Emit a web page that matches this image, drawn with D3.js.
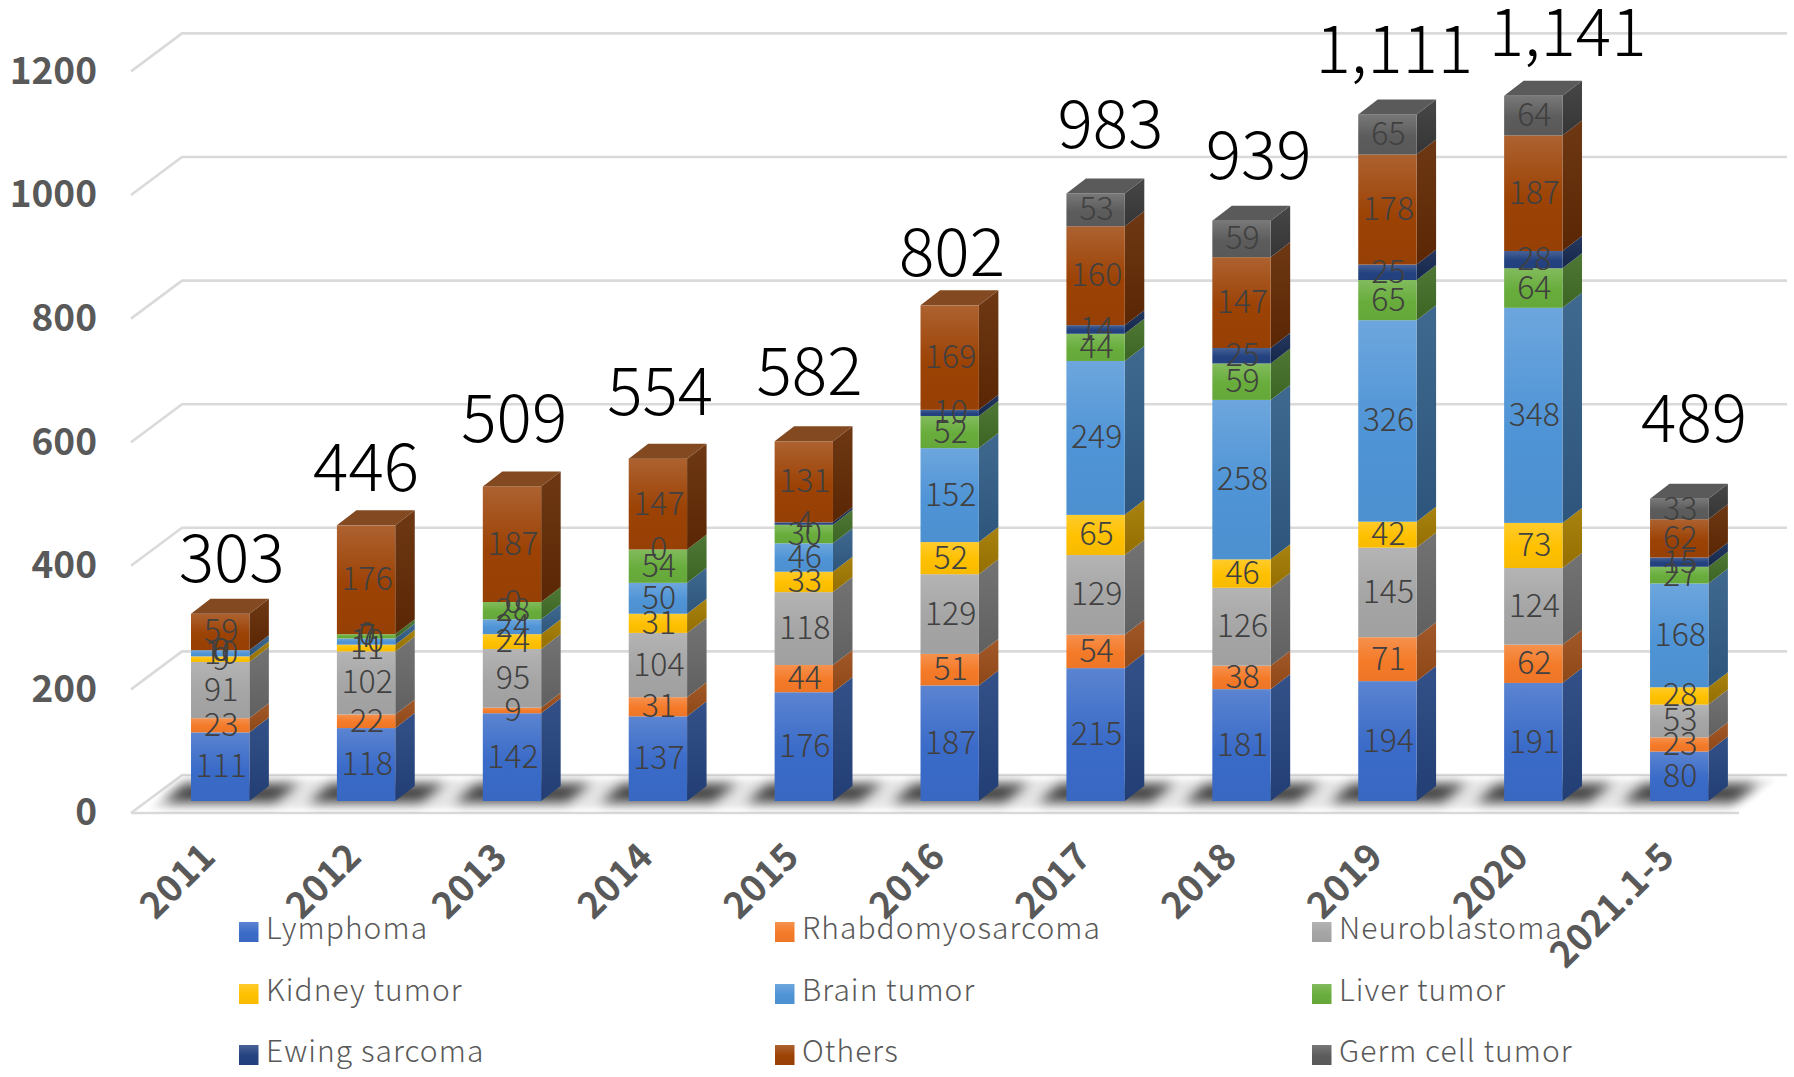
<!DOCTYPE html>
<html><head><meta charset="utf-8">
<style>
html,body{margin:0;padding:0;background:#fff}
svg{display:block}
text{font-family:"Noto Sans CJK JP","Noto Sans",sans-serif}
.domain{display:none}
</style>
<script src="https://cdn.jsdelivr.net/npm/d3@7/dist/d3.min.js"></script>
</head><body><svg id="c" width="1794" height="1077"></svg>
<script>
const categories=["2011","2012","2013","2014","2015","2016","2017","2018","2019","2020","2021.1-5"];
const lymphoma=[111,118,142,137,176,187,215,181,194,191,80];
const rhabdomyosarcoma=[23,22,9,31,44,51,54,38,71,62,23];
const neuroblastoma=[91,102,95,104,118,129,129,126,145,124,53];
const kidneyTumor=[9,11,24,31,33,52,65,46,42,73,28];
const brainTumor=[10,10,24,50,46,152,249,258,326,348,168];
const liverTumor=[0,7,28,54,30,52,44,59,65,64,27];
const ewingSarcoma=[0,0,0,0,4,10,14,25,25,28,15];
const others=[59,176,187,147,131,169,160,147,178,187,62];
const germCellTumor=[null,null,null,null,null,null,53,59,65,64,33];
const totals=["303","446","509","554","582","802","983","939","1,111","1,141","489"];
const seriesNames=["Lymphoma","Rhabdomyosarcoma","Neuroblastoma","Kidney tumor","Brain tumor","Liver tumor","Ewing sarcoma","Others","Germ cell tumor"];
const seriesValues=[lymphoma,rhabdomyosarcoma,neuroblastoma,kidneyTumor,brainTumor,liverTumor,ewingSarcoma,others,germCellTumor];
const seriesColors=["#3A6BC8","#F47A28","#A5A5A5","#FFC000","#4F94D6","#68AD3C","#234280","#9C4205","#5C5C5C"];
const yTicks=[0,200,400,600,800,1000,1200];

const svg=d3.select("#c");
const defs=svg.append("defs");
const y=d3.scaleLinear().domain([0,1200]).range([801,59.4]);
const x=d3.scaleBand().domain(categories).range([191,1708.4]).paddingInner(0.6).paddingOuter(0).align(0);
const dx=19.5,dy=15,gridFront=12,gridBack=-26,backDx=51;
const gridLeft=131,gridRight=1787,floorRight=1739;

// gradients
const shade=(c,k)=>{const r=d3.rgb(c);return d3.rgb(r.r*k,r.g*k,r.b*k).formatHex()};
seriesColors.forEach((c,i)=>{
  const f=defs.append("linearGradient").attr("id","f"+i).attr("x1",0).attr("y1",0).attr("x2",0).attr("y2",1);
  f.append("stop").attr("offset","0").attr("stop-color",d3.interpolateRgb(c,"#fff")(0.17));
  f.append("stop").attr("offset","0.55").attr("stop-color",c);
  f.append("stop").attr("offset","1").attr("stop-color",shade(c,0.97));
  const s=defs.append("linearGradient").attr("id","s"+i).attr("x1",0).attr("y1",0).attr("x2",0).attr("y2",1);
  s.append("stop").attr("offset","0").attr("stop-color",shade(d3.interpolateRgb(c,"#fff")(0.1),0.66));
  s.append("stop").attr("offset","1").attr("stop-color",shade(c,0.58));
});
const blur=(id,sd)=>defs.append("filter").attr("id",id).attr("filterUnits","userSpaceOnUse")
  .attr("x",0).attr("y",700).attr("width",1794).attr("height",200)
  .append("feGaussianBlur").attr("stdDeviation",sd);
blur("blur",6); blur("blurSoft",3);
defs.append("clipPath").attr("id","floorClip").append("polygon")
  .attr("points",[[gridLeft,813],[floorRight,813],[gridRight,775],[gridLeft+backDx,775]].join(" "));

// gridlines (walls)
const grid=svg.append("g").attr("fill","none").attr("stroke","#DADADA").attr("stroke-width",2.6);
yTicks.forEach(v=>{
  grid.append("path").attr("d",d3.line()([[gridLeft,y(v)+gridFront],[gridLeft+backDx,y(v)+gridBack],[gridRight,y(v)+gridBack]]));
});
grid.append("path").attr("d",d3.line()([[gridLeft,y(0)+gridFront],[floorRight,y(0)+gridFront]]));

// floor shadows
const shadows=svg.append("g").attr("clip-path","url(#floorClip)");
shadows.append("polygon").attr("filter","url(#blurSoft)").attr("fill","#000").attr("opacity",0.1)
  .attr("points",[[150,808],[floorRight-10,808],[gridRight-12,780],[gridLeft+backDx+2,780]].join(" "));
categories.forEach(c=>{
  const l=x(c);
  shadows.append("polygon").attr("filter","url(#blur)").attr("fill","#000").attr("opacity",0.72)
    .attr("points",[[l-28,802],[l+84,802],[l+108,784],[l-6,784]].join(" "));
});

// bars
const bars=svg.append("g");
const labels=[];
categories.forEach((c,ci)=>{
  const l=x(c),w=x.bandwidth();
  let acc=0,topIdx=-1;
  seriesValues.forEach((vals,si)=>{
    const v=vals[ci];
    if(v===null)return;
    const y0=y(acc),y1=y(acc+v);
    if(v>0){
      bars.append("polygon").attr("fill",`url(#s${si})`)
        .attr("points",[[l+w,y1],[l+w+dx,y1-dy],[l+w+dx,y0-dy],[l+w,y0]].join(" "));
      bars.append("rect").attr("x",l).attr("y",y1).attr("width",w).attr("height",y0-y1).attr("fill",`url(#f${si})`);
      topIdx=si;
    }
    labels.push({x:l+w/2,y:(y0+y1)/2,t:v});
    acc+=v;
  });
  const yt=y(acc);
  bars.append("polygon").attr("fill",d3.interpolateRgb(seriesColors[topIdx],"#555")(0.35))
    .attr("points",[[l,yt],[l+w,yt],[l+w+dx,yt-dy],[l+dx,yt-dy]].join(" "));
});

// value labels
svg.append("g").attr("text-anchor","middle").attr("fill","#404040").attr("font-size",32).attr("font-weight",300)
 .selectAll("text").data(labels).join("text")
 .attr("x",d=>d.x+1).attr("y",d=>d.y-1).attr("dy","0.36em").text(d=>d.t);

// totals — hand-placed in the original, so each has its own small nudge from the bar top
const nudge=[[10,6],[0,3],[2,-5],[2,-5],[5,-7],[2,8],[13,-6],[15,-3],[6,-3],[30,-1],[13,-16]];
const totalTops=categories.map((c,i)=>d3.sum(seriesValues,s=>s[i]||0));
svg.append("g").attr("text-anchor","middle").attr("fill","#000").attr("font-size",66).attr("font-weight",300)
 .selectAll("text").data(totals).join("text")
 .attr("x",(d,i)=>x(categories[i])+x.bandwidth()/2+nudge[i][0]*1.144)
 .attr("y",(d,i)=>y(totalTops[i])-62+nudge[i][1]*1.144)
 .attr("dy","0.36em").text(d=>d);

// y axis
const yAxis=svg.append("g").attr("transform","translate(97,12)")
 .call(d3.axisLeft(y).tickValues(yTicks).tickSize(0).tickPadding(0).tickFormat(d3.format("d")));
yAxis.selectAll("text").attr("font-size",37).attr("font-weight",700).attr("fill","#595959").style("font-family",'"Noto Sans CJK JP"');

// x axis
const xAxis=svg.append("g").attr("transform","translate(-12,850)")
 .call(d3.axisBottom(x).tickSize(0).tickPadding(0));
xAxis.selectAll("text").attr("font-size",37).attr("font-weight",700).attr("fill","#595959")
 .style("font-family",'"Noto Sans CJK JP"')
 .attr("text-anchor","end").attr("dy","0.35em").attr("transform","rotate(-45)");

// legend
const legendX=d3.scaleOrdinal().domain([0,1,2]).range([239,775,1312]);
const legendY=d3.scaleOrdinal().domain([0,1,2]).range([932,994,1055]);
const leg=svg.append("g");
seriesNames.forEach((n,i)=>{
  const lx=legendX(i%3),ly=legendY(Math.floor(i/3));
  leg.append("rect").attr("x",lx).attr("y",ly-10).attr("width",19.5).attr("height",20).attr("fill",`url(#f${i})`);
  leg.append("text").attr("x",lx+27).attr("y",ly-3.5).attr("dy","0.36em").attr("font-size",30).attr("font-weight",300)
    .attr("letter-spacing",1.05).attr("fill","#595959").text(n);
});
</script></body></html>
